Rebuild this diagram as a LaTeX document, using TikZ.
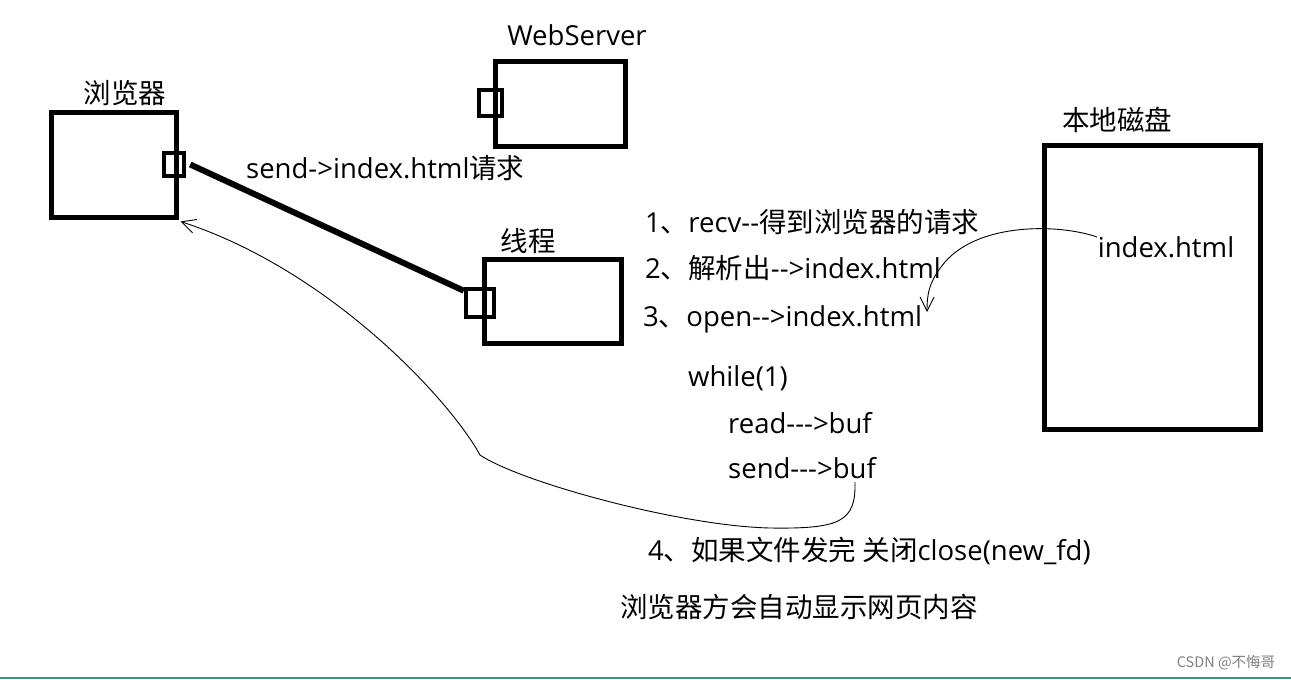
\documentclass[tikz,border=0pt]{standalone}
\usepackage{fontspec}
\setmainfont{Open Sans}[Ligatures = TeXOff]
\newfontfamily\cjk{Noto Sans CJK SC}[Ligatures = TeXOff]
\usetikzlibrary{arrows.meta}
\definecolor{barline}{RGB}{66,146,116}

\begin{document}
\begin{tikzpicture}[x = 1pt, y = -1pt,
    box/.style = {draw, line width = 5pt, inner sep = 0pt},
    port/.style = {draw, line width = 4.5pt, inner sep = 0pt},
    txt/.style = {inner sep = 0pt, anchor = west, font = \fontsize{27.5}{32}\selectfont},
    title/.style = {inner sep = 0pt, font = \fontsize{27.5}{32}\selectfont},
    link/.style = {line width = 6pt},
    hand/.style = {line width = 0.9pt, -{Straight Barb[length = 14pt, width = 14pt]}}]
        \useasboundingbox (0,0) rectangle (1291,680);

        % boxes and their ports
        \node[box, minimum width = 125pt, minimum height = 105pt] (browser) at (113.5,164.5) {};
        \node[box, minimum width = 130pt, minimum height = 85pt] (webserver) at (560,103.5) {};
        \node[box, minimum width = 137pt, minimum height = 84pt] (thread) at (552.5,301) {};
        \node[box, line width = 5.5pt, minimum width = 216pt, minimum height = 284pt] (disk) at (1152.5,287.5) {};
        \node[port, minimum width = 20pt, minimum height = 23pt] (bport) at (174,164.5) {};
        \node[port, minimum width = 23pt, minimum height = 26pt] (wport) at (490.5,103) {};
        \node[port, minimum width = 28pt, minimum height = 28pt] (tport) at (480,303) {};

        \node[title] (browsertitle) at (125,93) {\cjk 浏览器};
        \node[title] (webtitle) at (577,35) {WebServer};
        \node[title] (threadtitle) at (528,241) {\cjk 线程};
        \node[title] (disktitle) at (1117,120) {\cjk 本地磁盘};
        \node[title] (diskfile) at (1166,247) {index.html};

        \draw[link] ([xshift = 4pt]bport.east) -- ([yshift = -4pt]tport.north west);
        \node[txt] (request) at (246,168) {send->index.html{\cjk 请求}};

        % steps of the thread
        \node[txt] (step1) at (645,222) {1{\cjk 、}recv--{\cjk 得到浏览器的请求}};
        \node[txt] (step2) at (645,268) {2{\cjk 、解析出}-->index.html};
        \node[txt] (step3) at (643,319) {3{\cjk 、}open-->index.html};
        \node[txt] (loop) at (688,378) {while(1)};
        \node[txt] (readbuf) at (728,423) {read--->buf};
        \node[txt] (sendbuf) at (728,468) {send--->buf};
        \node[txt] (step4) at (648,551) {4{\cjk 、如果文件发完 关闭}close(new\_fd)};
        \node[txt] (result) at (620,607) {\cjk 浏览器方会自动显示网页内容};

        % hand drawn connectors
        \coordinate (filestart) at (1097,237);
        \coordinate (openend) at (927,312);
        \coordinate (bufend) at (855,482);
        \draw[hand] (filestart) .. controls (1060,224) and (980,222) .. (945,262)
            .. controls (930,280) and (927,292) .. (openend);
        \draw[hand] (bufend) .. controls (856,522) and (840,529) .. (770,528)
            .. controls (680,526) and (520,482) .. (480,455)
            .. controls (450,400) and (330,270) .. ([xshift = 2pt, yshift = -2pt]browser.south east);

        \node[inner sep = 0pt, text = gray, font = \fontsize{14.5}{17}\selectfont\cjk] (mark) at (1226,663) {CSDN @不悔哥};
        \draw[barline, line width = 2pt] (0,678) -- (1291,678);
\end{tikzpicture}
\end{document}
